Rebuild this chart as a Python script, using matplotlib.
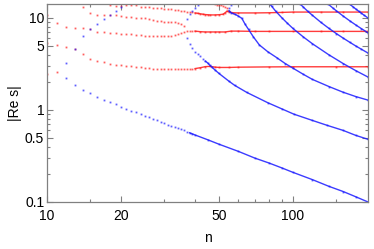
import numpy as np
import matplotlib
matplotlib.use("Agg")
import matplotlib.pyplot as plt

plt.rcParams['font.family'] = ['Liberation Sans', 'DejaVu Sans']

red_low_n = [10, 11]
red_low_v = [2.46, 2.59]

red_3_n = list(range(10, 41)) + [42, 44, 46, 48, 50, 55, 60, 80, 100, 150, 202]
red_3_v = [5.3, 5.1, 4.84, 4.6, 4.06, 3.58, 3.41, 3.32, 3.16, 3.09, 3.05,
           3.01, 2.97, 2.93, 2.9, 2.87, 2.84, 2.81, 2.79, 2.78, 2.77,
           2.77, 2.77, 2.77, 2.77, 2.77, 2.78, 2.78, 2.79, 2.80, 2.82,
           2.88, 2.96, 2.98, 2.93, 2.9, 2.9, 2.92, 2.94, 2.95, 2.95, 2.95]

red_7_n = list(range(10, 41)) + [42, 44, 46, 48, 50, 53, 56, 60, 70, 80, 100, 130, 160, 202]
red_7_v = [10.8, 8.8, 8.0, 7.8, 7.8, 7.6, 7.1, 7.0, 6.9, 6.8, 6.7,
           6.7, 6.65, 6.6, 6.5, 6.45, 6.4, 6.35, 6.35, 6.35, 6.35,
           6.4, 6.45, 6.55, 6.7, 6.85, 7.0, 7.2, 7.3, 7.3, 7.2,
           7.1, 7.05, 7.05, 7.05, 7.05, 7.05, 7.2, 7.2, 7.15, 7.15, 7.15, 7.15, 7.15, 7.15]

red_9_n = list(range(14, 37))
red_9_v = [13.1, 11.3, 10.8, 10.8, 10.8, 10.8, 10.6, 10.2, 10.2, 10.1, 10.0,
           9.9, 9.7, 9.5, 9.35, 9.25, 9.1, 9.0, 9.0, 8.95, 8.85, 8.7, 8.2]

red_12_n = list(range(18, 47)) + [48, 50, 52, 53, 54, 55, 57, 60, 70, 80, 90, 100, 130, 160, 202]
red_12_v = [14.0, 13.5, 13.6, 13.8, 13.8, 13.8, 13.3, 13.1, 13.1, 13.0, 12.8,
            12.7, 12.6, 12.5, 12.4, 12.3, 12.2, 12.0, 11.9, 11.7, 11.6,
            11.5, 11.35, 11.25, 11.1, 11.0, 10.9, 10.85, 10.8,
            10.8, 10.85, 11.0, 11.4, 11.9, 11.7, 11.4, 11.35, 11.35, 11.4,
            11.5, 11.6, 11.6, 11.6, 11.6]

red_14_n = [48, 49, 50, 51, 52, 53, 54]
red_14_v = [14.1, 14.0, 13.85, 13.7, 13.5, 13.2, 12.9]

blue_0_n = list(range(12, 41)) + [45, 50, 60, 70, 80, 90, 100, 120, 140, 160, 180, 202]
blue_0_v = [2.23, 1.87, 1.65, 1.52, 1.40, 1.30, 1.22, 1.15, 1.09, 1.03,
            0.98, 0.94, 0.90, 0.86, 0.83, 0.80, 0.77, 0.74, 0.72, 0.695,
            0.67, 0.65, 0.63, 0.615, 0.60, 0.58, 0.565, 0.55, 0.535,
            0.475, 0.425, 0.355, 0.30, 0.265, 0.235, 0.21, 0.175, 0.148,
            0.13, 0.114, 0.1]

blue_0up_n = [12, 13, 14, 15, 16, 17, 18, 19, 20]
blue_0up_v = [3.24, 4.6, 6.37, 7.6, 8.6, 9.7, 10.8, 11.9, 13.2]

blue_1up_n = [37, 38, 39, 40, 41]
blue_1up_v = [9.8, 11.0, 12.0, 13.0, 14.0]

blue_1_n = list(range(37, 49)) + [50, 55, 58, 65, 79, 90, 101, 120, 138, 160, 180, 202]
blue_1_v = [6.1, 5.2, 4.72, 4.3, 4.06, 3.85, 3.6, 3.4, 3.25, 3.05, 2.9, 2.75,
            2.5, 2.05, 1.85, 1.55, 1.2, 1.03, 0.9, 0.77, 0.68, 0.6, 0.53, 0.48]

blue_2up_n = [55, 56]
blue_2up_v = [13.0, 14.0]

blue_2_n = [55, 56, 58, 60, 62, 64, 66, 69, 73, 79, 86, 93, 100, 110, 120, 140, 160, 180, 202]
blue_2_v = [12.0, 11.4, 11.0, 10.5, 9.9, 8.5, 7.5, 6.25, 5.1, 4.3, 3.7, 3.2, 2.85,
            2.45, 2.15, 1.8, 1.56, 1.4, 1.28]

blue_3_n = [80.6, 82, 85, 90, 95, 100, 110, 120, 140, 160, 180, 202]
blue_3_v = [14.2, 13.4, 11.9, 10.1, 8.75, 7.7, 6.25, 5.25, 3.98, 3.2, 2.68, 2.28]

blue_4_n = [107, 110, 115, 120, 130, 140, 150, 160, 170, 180, 190, 202]
blue_4_v = [14.2, 13.2, 11.8, 10.7, 8.96, 7.72, 6.78, 6.05, 5.46, 4.97, 4.57, 4.16]

blue_5_n = [139, 145, 150, 160, 170, 180, 190, 202]
blue_5_v = [14.2, 12.9, 12.0, 10.5, 9.34, 8.41, 7.65, 6.9]

blue_6_n = [170, 175, 180, 185, 190, 195, 202]
blue_6_v = [14.2, 13.3, 12.55, 11.86, 11.25, 10.69, 10.0]

RED = '#ff1a1a'
BLUE = '#1a1aff'

fig = plt.figure(figsize=(3.74, 2.49), dpi=100)
ax = fig.add_axes([0.1257, 0.1888, 0.984 - 0.1257, 0.984 - 0.1888])


def draw(n, v, color, line_from=None):
    n = np.asarray(n, dtype=float)
    v = np.asarray(v, dtype=float)
    ax.plot(n, v, 's', ms=1.3, mew=0, color=color, alpha=0.7)
    if line_from is not None:
        d = n >= line_from
        ax.plot(n[d], v[d], '-', lw=1.0, color=color, alpha=0.85)


draw(red_low_n, red_low_v, RED)
draw(red_3_n, red_3_v, RED, 40)
draw(red_7_n, red_7_v, RED, 40)
draw(red_9_n, red_9_v, RED)
draw(red_12_n, red_12_v, RED, 40)
draw(red_14_n, red_14_v, RED)

draw(blue_0_n, blue_0_v, BLUE, 38)
draw(blue_0up_n, blue_0up_v, BLUE)
draw(blue_1up_n, blue_1up_v, BLUE)
draw(blue_1_n, blue_1_v, BLUE, 44)
draw(blue_2up_n, blue_2up_v, BLUE)
draw(blue_2_n, blue_2_v, BLUE, 0)
draw(blue_3_n, blue_3_v, BLUE, 0)
draw(blue_4_n, blue_4_v, BLUE, 0)
draw(blue_5_n, blue_5_v, BLUE, 0)
draw(blue_6_n, blue_6_v, BLUE, 0)

ax.set_xscale('log')
ax.set_yscale('log')
ax.set_xlim(10, 202)
ax.set_ylim(0.1, 14.2)

ax.set_xticks([10, 20, 50, 100], ['10', '20', '50', '100'])
ax.set_xticks([15, 30, 40, 60, 70, 80, 90, 150], minor=True)
ax.set_xticklabels([], minor=True)
ax.set_yticks([0.1, 0.5, 1, 5, 10], ['0.1', '0.5', '1', '5', '10'])
ax.set_yticks([0.2, 0.3, 0.4, 0.6, 0.7, 0.8, 0.9, 2, 3, 4, 6, 7, 8, 9], minor=True)
ax.set_yticklabels([], minor=True)

gray = '#808080'
ax.tick_params(which='both', direction='in', top=True, right=True, color=gray,
               labelsize=10, width=0.8)
ax.tick_params(which='major', length=4)
ax.tick_params(which='minor', length=2.5)
ax.tick_params(axis='x', which='major', pad=5)
ax.tick_params(axis='y', which='major', pad=2)
for s in ax.spines.values():
    s.set_color(gray)
    s.set_linewidth(0.9)

ax.set_xlabel('n', fontsize=10, labelpad=6)
ax.set_ylabel('|Re s|', fontsize=10, labelpad=2)

fig.savefig('out.png', dpi=100)
